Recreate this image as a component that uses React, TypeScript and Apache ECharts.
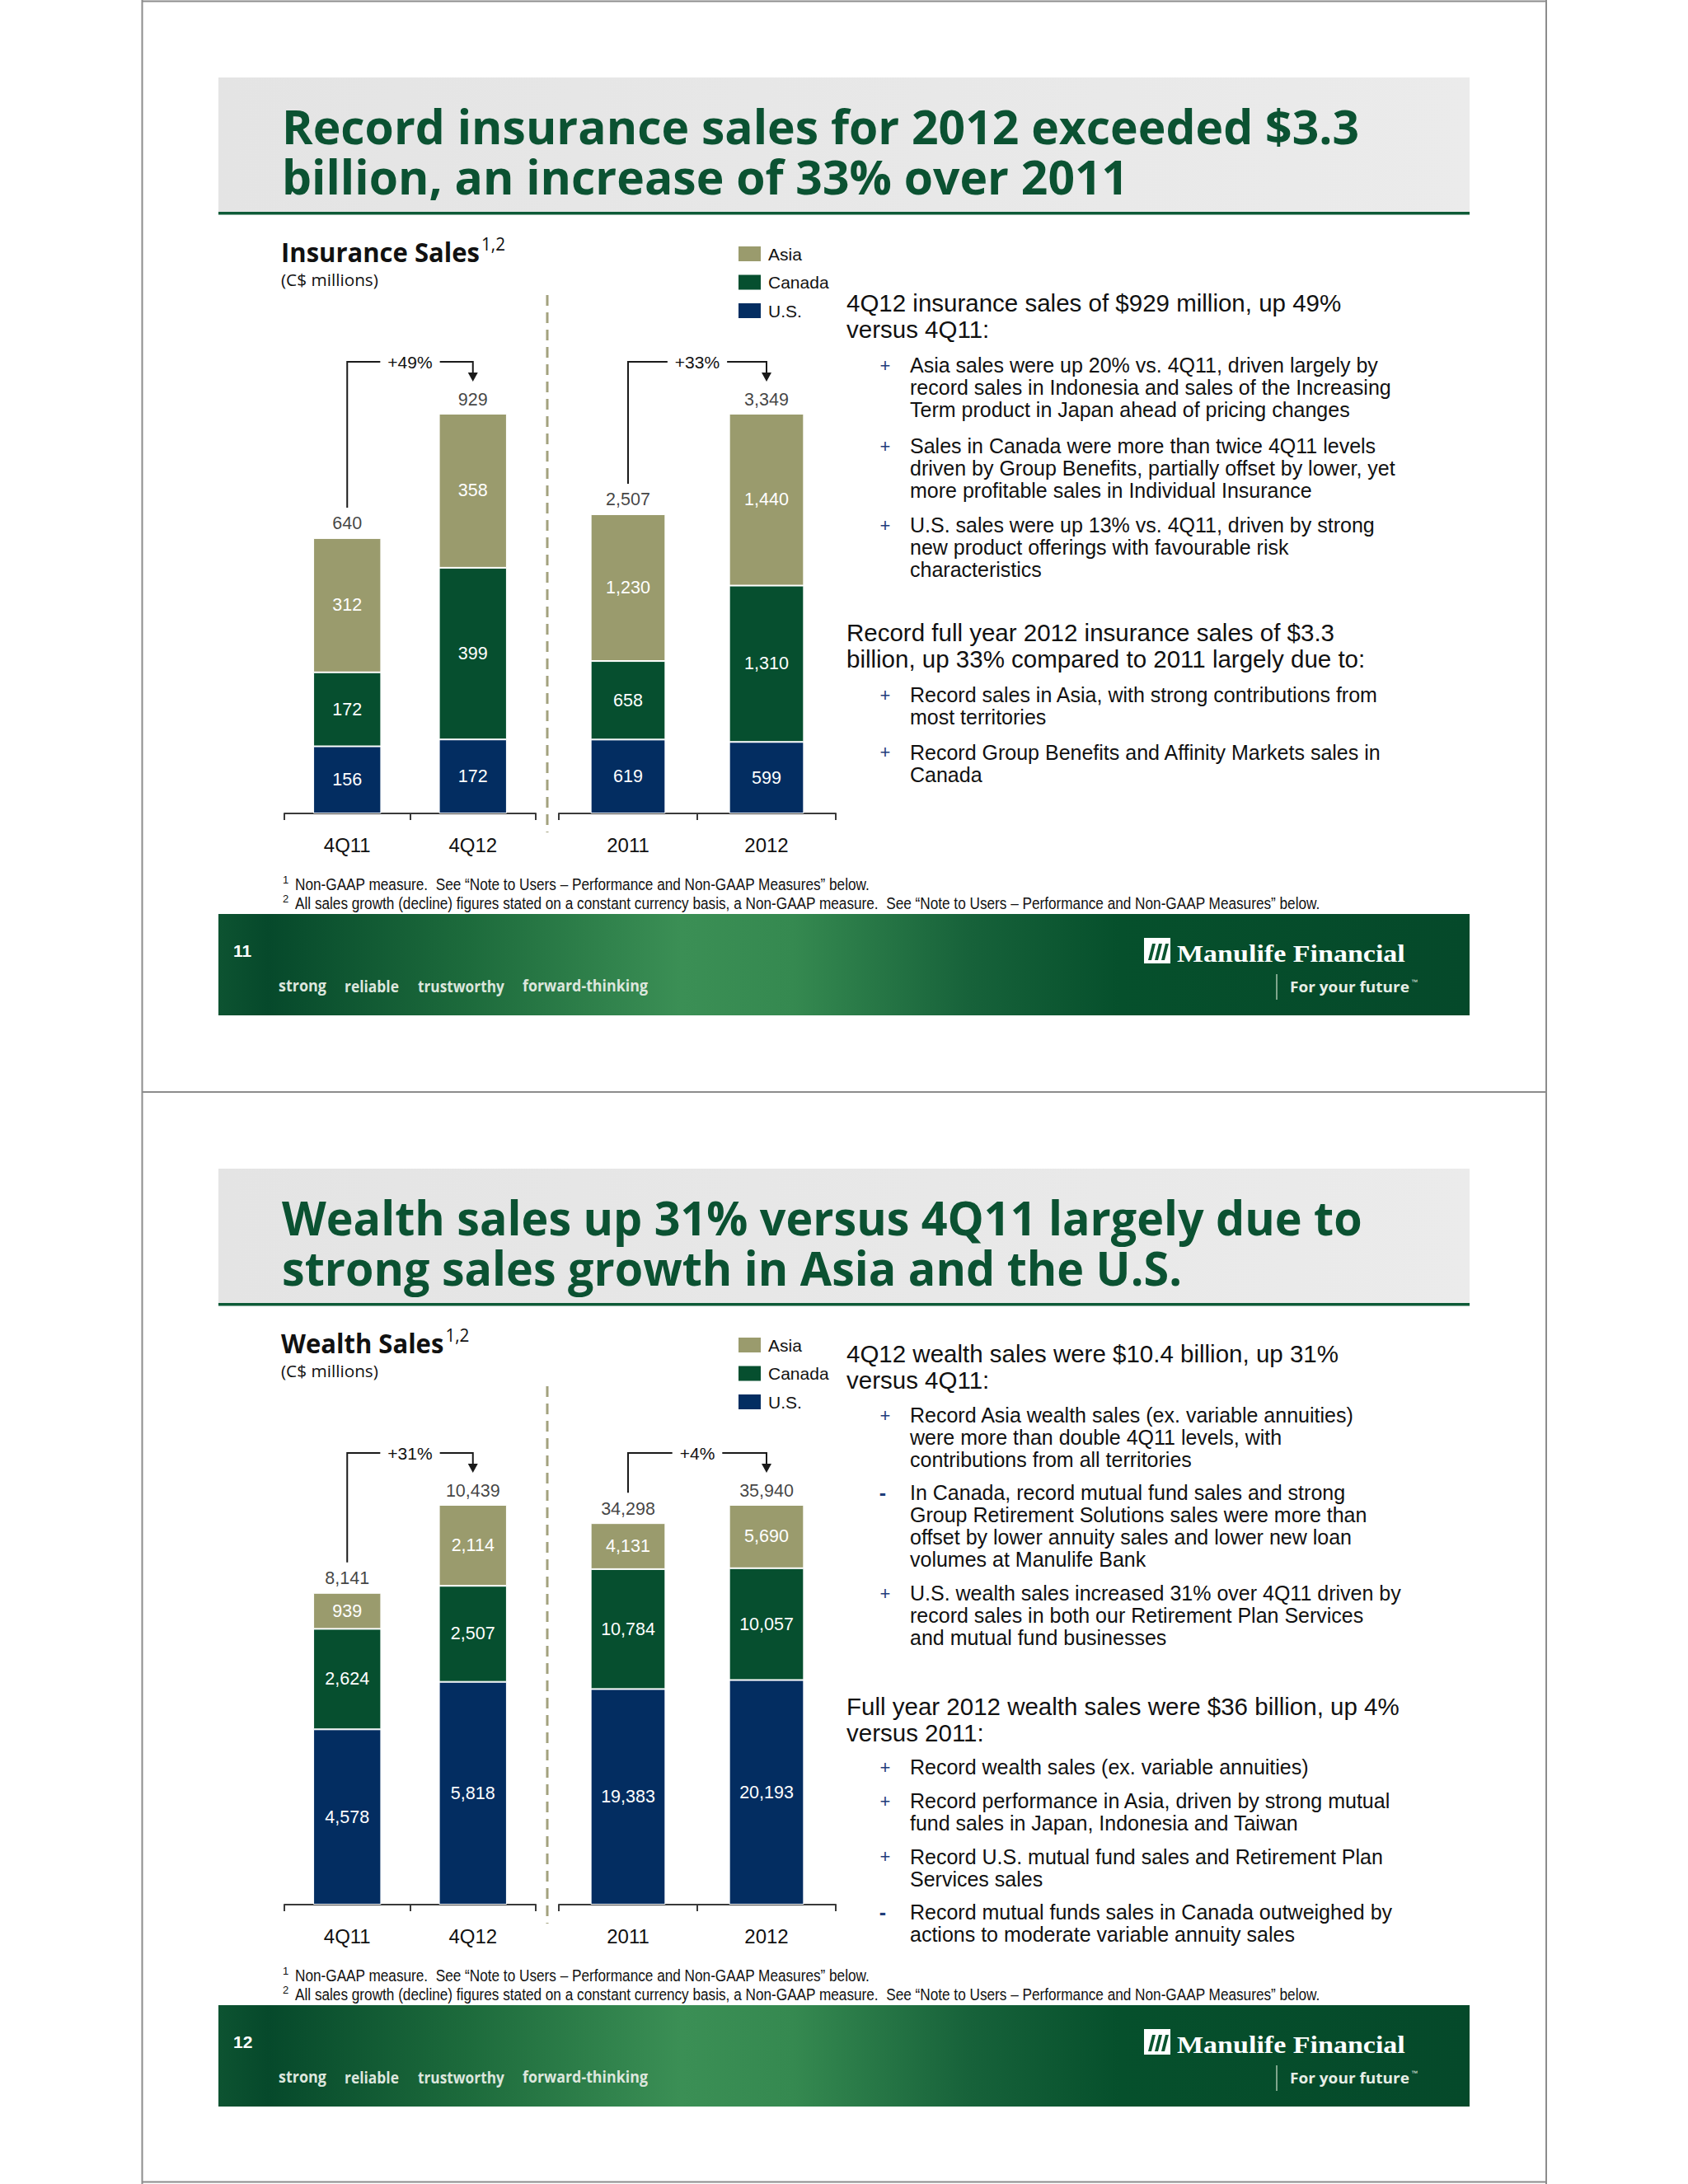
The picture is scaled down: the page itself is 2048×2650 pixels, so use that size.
import React, { useEffect, useRef } from "react";
import * as echarts from "echarts";

const PAGE_W = 2048;
const PAGE_H = 2650;
const SLIDE_DY = 1324;

// ---------- data ----------
const QUARTER_CATS = ["4Q11", "4Q12"];
const YEAR_CATS = ["2011", "2012"];
const LEGEND_ORDER = ["Asia", "Canada", "U.S."];

// Insurance sales (C$ millions)
const INS_QUARTER_US = [156, 172];
const INS_QUARTER_CANADA = [172, 399];
const INS_QUARTER_ASIA = [312, 358];
const INS_YEAR_US = [619, 599];
const INS_YEAR_CANADA = [658, 1310];
const INS_YEAR_ASIA = [1230, 1440];
const INS_GROWTH = ["+49%", "+33%"];

// Wealth sales (C$ millions)
const WEA_QUARTER_US = [4578, 5818];
const WEA_QUARTER_CANADA = [2624, 2507];
const WEA_QUARTER_ASIA = [939, 2114];
const WEA_YEAR_US = [19383, 20193];
const WEA_YEAR_CANADA = [10784, 10057];
const WEA_YEAR_ASIA = [4131, 5690];
const WEA_GROWTH = ["+31%", "+4%"];

// ---------- texts ----------
const SLIDE1_TITLE = ["Record insurance sales for 2012 exceeded $3.3", "billion, an increase of 33% over 2011"];
const SLIDE2_TITLE = ["Wealth sales up 31% versus 4Q11 largely due to", "strong sales growth in Asia and the U.S."];
const SLIDE1_CHART_TITLE = "Insurance Sales";
const SLIDE2_CHART_TITLE = "Wealth Sales";
const CHART_SUBTITLE = "(C$ millions)";

const INS_NOTES = [
  { kind: "head", lines: ["4Q12 insurance sales of $929 million, up 49%", "versus 4Q11:"] },
  { kind: "+", lines: ["Asia sales were up 20% vs. 4Q11, driven largely by", "record sales in Indonesia and sales of the Increasing", "Term product in Japan ahead of pricing changes"] },
  { kind: "+", lines: ["Sales in Canada were more than twice 4Q11 levels", "driven by Group Benefits, partially offset by lower, yet", "more profitable sales in Individual Insurance"] },
  { kind: "+", lines: ["U.S. sales were up 13% vs. 4Q11, driven by strong", "new product offerings with favourable risk", "characteristics"] },
  { kind: "head", lines: ["Record full year 2012 insurance sales of $3.3", "billion, up 33% compared to 2011 largely due to:"] },
  { kind: "+", lines: ["Record sales in Asia, with strong contributions from", "most territories"] },
  { kind: "+", lines: ["Record Group Benefits and Affinity Markets sales in", "Canada"] },
];
const INS_NOTES_Y = [367, 443, 541, 637, 767, 843, 912.5];

const WEA_NOTES = [
  { kind: "head", lines: ["4Q12 wealth sales were $10.4 billion, up 31%", "versus 4Q11:"] },
  { kind: "+", lines: ["Record Asia wealth sales (ex. variable annuities)", "were more than double 4Q11 levels, with", "contributions from all territories"] },
  { kind: "-", lines: ["In Canada, record mutual fund sales and strong", "Group Retirement Solutions sales were more than", "offset by lower annuity sales and lower new loan", "volumes at Manulife Bank"] },
  { kind: "+", lines: ["U.S. wealth sales increased 31% over 4Q11 driven by", "record sales in both our Retirement Plan Services", "and mutual fund businesses"] },
  { kind: "head", lines: ["Full year 2012 wealth sales were $36 billion, up 4%", "versus 2011:"] },
  { kind: "+", lines: ["Record wealth sales (ex. variable annuities)"] },
  { kind: "+", lines: ["Record performance in Asia, driven by strong mutual", "fund sales in Japan, Indonesia and Taiwan"] },
  { kind: "+", lines: ["Record U.S. mutual fund sales and Retirement Plan", "Services sales"] },
  { kind: "-", lines: ["Record mutual funds sales in Canada outweighed by", "actions to moderate variable annuity sales"] },
];
const WEA_NOTES_Y = [1642.5, 1717, 1811, 1933, 2070, 2144, 2185, 2252.5, 2320];

const FOOTNOTE_1 = "Non-GAAP measure.  See \u201cNote to Users \u2013 Performance and Non-GAAP Measures\u201d below.";
const FOOTNOTE_2 = "All sales growth (decline) figures stated on a constant currency basis, a Non-GAAP measure.  See \u201cNote to Users \u2013 Performance and Non-GAAP Measures\u201d below.";
const FOOTER_WORDS = ["strong", "reliable", "trustworthy", "forward-thinking"];
const BRAND = "Manulife Financial";
const TAGLINE = "For your future";

// ---------- styles ----------
const SANS = "Liberation Sans";
const HUMAN = "Open Sans";
const COLORS: Record<string, string> = { Asia: "#9a9b6d", Canada: "#064f2f", "U.S.": "#032d61" };
const TITLE_GREEN = "#0b5232";
const MARK_BLUE = "#1f3d7a";

let ctx: CanvasRenderingContext2D | null = null;
function measure(text: string, size: number, family: string, weight = "normal") {
  if (!ctx) ctx = document.createElement("canvas").getContext("2d");
  ctx!.font = `${weight} ${size}px "${family}"`;
  return ctx!.measureText(text).width;
}
function fit(text: string, size: number, family: string, weight: string, width: number) {
  const w = measure(text, size, family, weight);
  return w > 0 ? width / w : 1;
}

const fmt = (v: number) => Number(v).toLocaleString("en-US");
const sum3 = (a: number[], b: number[], c: number[]) => a.map((v, i) => v + b[i] + c[i]);

const PANELS = [
  { cats: QUARTER_CATS, us: INS_QUARTER_US, canada: INS_QUARTER_CANADA, asia: INS_QUARTER_ASIA, growth: INS_GROWTH[0] },
  { cats: YEAR_CATS, us: INS_YEAR_US, canada: INS_YEAR_CANADA, asia: INS_YEAR_ASIA, growth: INS_GROWTH[1] },
  { cats: QUARTER_CATS, us: WEA_QUARTER_US, canada: WEA_QUARTER_CANADA, asia: WEA_QUARTER_ASIA, growth: WEA_GROWTH[0] },
  { cats: YEAR_CATS, us: WEA_YEAR_US, canada: WEA_YEAR_CANADA, asia: WEA_YEAR_ASIA, growth: WEA_GROWTH[1] },
];
const PANEL_LAYOUT = [
  { left: 345, width: 305, top: 502 },
  { left: 678, width: 336, top: 502 },
  { left: 345, width: 305, top: 502 + SLIDE_DY },
  { left: 678, width: 336, top: 502 + SLIDE_DY },
];
const PLOT_H = 485;

let gid = 0;
function T(x: number, y: number, text: string, o: any) {
  const align = o.align || "left";
  const va = o.va || "middle";
  return {
    type: "text",
    id: "t" + gid++,
    x,
    y,
    scaleX: o.scaleX || 1,
    silent: true,
    z: o.z || 10,
    style: {
      text,
      x: 0,
      y: 0,
      fill: o.color || "#111",
      fontSize: o.size,
      fontFamily: o.family || SANS,
      fontWeight: o.weight || "normal",
      align,
      verticalAlign: va,
      textAlign: align,
      textVerticalAlign: va,
    },
  };
}
function R(x: number, y: number, w: number, h: number, fill: any, z = 1) {
  return { type: "rect", id: "r" + gid++, silent: true, z, shape: { x, y, width: w, height: h }, style: { fill } };
}
function L(x1: number, y1: number, x2: number, y2: number, stroke: string, lw: number, dash?: number[]) {
  return {
    type: "line",
    id: "l" + gid++,
    silent: true,
    z: 2,
    shape: { x1, y1, x2, y2 },
    style: { stroke, lineWidth: lw, lineDash: dash || null },
  };
}

function slideStatic(dy: number, num: string, titleLines: string[], titleWidth: number, chartTitle: string, notes: any[], notesY: number[]) {
  const out: any[] = [];
  // header
  out.push(
    R(265, 94 + dy, 1518, 163, new echarts.graphic.LinearGradient(0, 0, 1, 0, [
      { offset: 0, color: "#e4e4e4" },
      { offset: 1, color: "#ebebeb" },
    ]))
  );
  out.push(R(265, 257 + dy, 1518, 3.5, "#0d5a37"));
  const tScale = fit(titleLines[0], 58, HUMAN, "bold", titleWidth);
  titleLines.forEach((line, k) => {
    out.push(T(342, 153 + k * 61 + dy, line, { size: 58, family: HUMAN, weight: "bold", color: TITLE_GREEN, scaleX: tScale }));
  });
  // chart title
  const ctScale = fit(SLIDE1_CHART_TITLE, 32, HUMAN, "bold", 241);
  const ctWidth = measure(chartTitle, 32, HUMAN, "bold") * ctScale;
  out.push(T(341, 305 + dy, chartTitle, { size: 32, family: HUMAN, weight: "bold", color: "#111", scaleX: ctScale }));
  out.push(T(341 + ctWidth + 2, 306 + dy, "1,2", { size: 21, family: HUMAN, color: "#111", va: "bottom", scaleX: fit("1,2", 21, HUMAN, "normal", 29) }));
  out.push(T(341, 339 + dy, CHART_SUBTITLE, { size: 20, family: HUMAN, color: "#111", scaleX: fit(CHART_SUBTITLE, 20, HUMAN, "normal", 118) }));
  // dashed separator
  out.push(L(664, 358 + dy, 664, 1010 + dy, "#a3a27e", 3, [13, 8]));
  // notes block
  notes.forEach((n, i) => {
    const y0 = notesY[i];
    if (n.kind === "head") {
      n.lines.forEach((line: string, k: number) => out.push(T(1027, y0 + k * 32, line, { size: 29.5, color: "#111" })));
    } else {
      if (n.kind === "+") out.push(T(1074, y0, "+", { size: 22, color: MARK_BLUE, align: "center" }));
      else out.push(T(1071, y0, "-", { size: 25, color: MARK_BLUE, align: "center", weight: "bold" }));
      n.lines.forEach((line: string, k: number) => out.push(T(1104, y0 + k * 27, line, { size: 25, color: "#111" })));
    }
  });
  // footnotes
  const fnScale = fit(FOOTNOTE_2, 19.5, SANS, "normal", 1244);
  out.push(T(343, 1067 + dy, "1", { size: 13, color: "#111" }));
  out.push(T(358, 1073 + dy, FOOTNOTE_1, { size: 19.5, color: "#111", scaleX: fnScale }));
  out.push(T(343, 1090 + dy, "2", { size: 13, color: "#111" }));
  out.push(T(358, 1096 + dy, FOOTNOTE_2, { size: 19.5, color: "#111", scaleX: fnScale }));
  // footer band
  out.push(
    R(265, 1109 + dy, 1518, 123, new echarts.graphic.LinearGradient(0, 0, 1, 0, [
      { offset: 0, color: "#0d5331" },
      { offset: 0.04, color: "#06492b" },
      { offset: 0.2, color: "#1d6b3c" },
      { offset: 0.37, color: "#3b8f55" },
      { offset: 0.46, color: "#358950" },
      { offset: 0.6, color: "#17623a" },
      { offset: 0.72, color: "#06502c" },
      { offset: 1, color: "#05492a" },
    ]))
  );
  out.push(T(283, 1153 + dy, num, { size: 21, weight: "bold", color: "#ffffff" }));
  const wordX = [338, 418, 507, 634];
  const wordW = [58, 66, 105, 152];
  FOOTER_WORDS.forEach((w, k) => {
    out.push(T(wordX[k], 1196 + dy, w, { size: 20, family: HUMAN, weight: "bold", color: "#dce6dd", scaleX: fit(w, 20, HUMAN, "bold", wordW[k]) }));
  });
  // logo
  out.push(R(1388, 1138 + dy, 32, 31, "#ffffff", 3));
  for (let k = 0; k < 3; k++) {
    const bx = 1393 + k * 8;
    out.push({
      type: "polygon",
      id: "p" + gid++,
      silent: true,
      z: 4,
      shape: { points: [[bx, 1165 + dy], [bx + 4, 1165 + dy], [bx + 9, 1145 + dy], [bx + 5, 1145 + dy]] },
      style: { fill: "#0a5530" },
    });
  }
  out.push(T(1428, 1157 + dy, BRAND, { size: 30, family: "Liberation Serif", weight: "bold", color: "#ffffff", scaleX: fit(BRAND, 30, "Liberation Serif", "bold", 277) }));
  out.push(L(1549, 1182 + dy, 1549, 1213 + dy, "#a9c5ae", 1.5));
  out.push(T(1565, 1197 + dy, TAGLINE, { size: 18, family: HUMAN, weight: "bold", color: "#e6eee6", scaleX: fit(TAGLINE, 18, HUMAN, "bold", 145) }));
  out.push(T(1712, 1191 + dy, "\u2122", { size: 8, color: "#e6eee6" }));
  return out;
}

function buildOption() {
  gid = 0;
  const graphic: any[] = [];
  // page frames
  graphic.push(L(172.5, 0, 172.5, PAGE_H, "#8c8c8c", 2));
  graphic.push(L(1876, 0, 1876, PAGE_H, "#8c8c8c", 2));
  graphic.push(L(172.5, 1.5, 1876, 1.5, "#8c8c8c", 2));
  graphic.push(L(172.5, 1325, 1876, 1325, "#8c8c8c", 2));
  graphic.push(L(172.5, 2647.5, 1876, 2647.5, "#8c8c8c", 2));
  graphic.push(...slideStatic(0, "11", SLIDE1_TITLE, 1307, SLIDE1_CHART_TITLE, INS_NOTES, INS_NOTES_Y));
  graphic.push(...slideStatic(SLIDE_DY, "12", SLIDE2_TITLE, 1311, SLIDE2_CHART_TITLE, WEA_NOTES, WEA_NOTES_Y));

  const grid: any[] = [];
  const xAxis: any[] = [];
  const yAxis: any[] = [];
  const series: any[] = [];
  PANELS.forEach((p, i) => {
    const lay = PANEL_LAYOUT[i];
    grid.push({ left: lay.left, top: lay.top, width: lay.width, height: PLOT_H, containLabel: false });
    xAxis.push({
      type: "category",
      gridIndex: i,
      data: p.cats,
      axisLine: { lineStyle: { color: "#3a3a3a", width: 2 } },
      axisTick: { show: true, length: 8, lineStyle: { color: "#3a3a3a", width: 2 } },
      axisLabel: { fontSize: 24, color: "#111", margin: 26, fontFamily: SANS },
      splitLine: { show: false },
    });
    yAxis.push({ type: "value", gridIndex: i, show: false, min: 0, max: (v: any) => v.max, splitLine: { show: false } });
    const parts: [string, number[]][] = [["U.S.", p.us], ["Canada", p.canada], ["Asia", p.asia]];
    parts.forEach(([name, data]) => {
      series.push({
        type: "bar",
        name,
        stack: "s" + i,
        xAxisIndex: i,
        yAxisIndex: i,
        data,
        barWidth: "54%",
        silent: true,
        itemStyle: { color: COLORS[name], borderColor: "#ffffff", borderWidth: 1 },
        label: { show: true, position: "inside", color: "#ffffff", fontSize: 21.5, fontFamily: SANS, formatter: (q: any) => fmt(q.value) },
      });
    });
    series.push({
      type: "scatter",
      name: "Total",
      xAxisIndex: i,
      yAxisIndex: i,
      data: sum3(p.us, p.canada, p.asia),
      symbolSize: 1,
      silent: true,
      z: 5,
      itemStyle: { color: "rgba(0,0,0,0)" },
      label: { show: true, position: "top", distance: 6, color: "#111", fontSize: 21.5, fontFamily: SANS, formatter: (q: any) => fmt(q.value) },
    });
  });

  const legendBase = {
    data: LEGEND_ORDER,
    orient: "vertical",
    left: 894,
    padding: 0,
    itemWidth: 29,
    itemHeight: 20,
    itemGap: 12.5,
    icon: "rect",
    selectedMode: false,
    textStyle: { fontSize: 21, fontFamily: SANS, color: "#111", lineHeight: 20, padding: [0, 0, 0, 3] },
  };

  return {
    animation: false,
    backgroundColor: "#ffffff",
    textStyle: { fontFamily: SANS },
    legend: [
      { ...legendBase, top: 297 },
      { ...legendBase, top: 297 + SLIDE_DY },
    ],
    grid,
    xAxis,
    yAxis,
    series,
    graphic,
  };
}

function buildBrackets(chart: any) {
  const out: any[] = [];
  PANELS.forEach((p, i) => {
    const tot = sum3(p.us, p.canada, p.asia);
    const a = chart.convertToPixel({ xAxisIndex: i, yAxisIndex: i }, [p.cats[0], tot[0]]);
    const b = chart.convertToPixel({ xAxisIndex: i, yAxisIndex: i }, [p.cats[1], tot[1]]);
    const top = Math.min(a[1], b[1]);
    const by = top - 63;
    const cx = (a[0] + b[0]) / 2;
    const half = measure(p.growth, 21, SANS) / 2 + 9;
    const tip = b[1] - 39;
    const st = { stroke: "#1a1a1a", lineWidth: 2, fill: null };
    out.push({ type: "polyline", id: "bl" + i, silent: true, z: 6, shape: { points: [[a[0], a[1] - 37], [a[0], by], [cx - half, by]] }, style: st });
    out.push({ type: "polyline", id: "br" + i, silent: true, z: 6, shape: { points: [[cx + half, by], [b[0], by], [b[0], tip - 10]] }, style: st });
    out.push({ type: "polygon", id: "ba" + i, silent: true, z: 6, shape: { points: [[b[0] - 6, tip - 11], [b[0] + 6, tip - 11], [b[0], tip]] }, style: { fill: "#1a1a1a" } });
    out.push({
      type: "text",
      id: "bt" + i,
      x: cx,
      y: by,
      silent: true,
      z: 6,
      style: { text: p.growth, x: 0, y: 0, fill: "#111", fontSize: 21, fontFamily: SANS, align: "center", verticalAlign: "middle", textAlign: "center", textVerticalAlign: "middle" },
    });
  });
  return out;
}

export default function App() {
  const ref = useRef<HTMLDivElement>(null);
  useEffect(() => {
    document.body.style.margin = "0";
    const chart = echarts.init(ref.current!, null, { renderer: "svg", width: PAGE_W, height: PAGE_H });
    chart.setOption(buildOption() as any);
    chart.setOption({ graphic: buildBrackets(chart) } as any);
    return () => chart.dispose();
  }, []);
  return <div ref={ref} style={{ width: PAGE_W, height: PAGE_H, background: "#fff" }} />;
}
